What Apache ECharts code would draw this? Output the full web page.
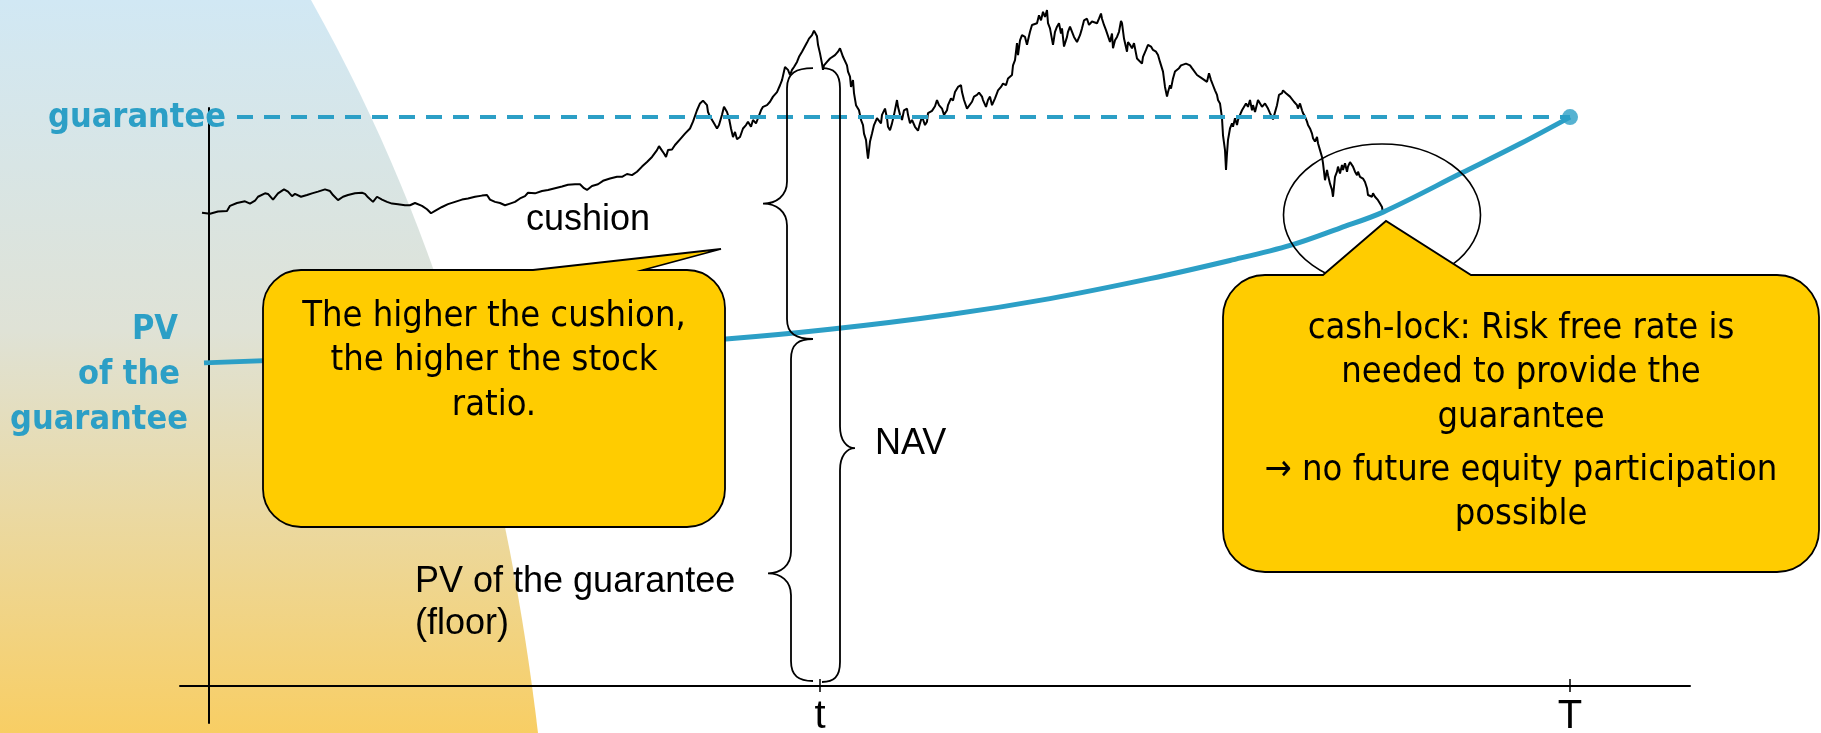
<!DOCTYPE html>
<html>
<head>
<meta charset="utf-8">
<script src="https://cdn.jsdelivr.net/npm/echarts@6/dist/echarts.min.js"></script>
<style>
  html, body { margin: 0; padding: 0; background: #ffffff; }
  #chart { width: 1821px; height: 733px; }
</style>
</head>
<body>
<div id="chart"></div>
<script>
// Fund NAV path: [trading day, NAV] with the guarantee level set to 100
const navPath = [
  [-7,83.2],[1,83.0],[9,83.4],[18,83.5],[21,84.4],[28,84.9],[36,85.2],[41,84.8],[46,85.3],[49,86.0],
  [56,86.6],[59,86.5],[64,85.5],[69,86.6],[75,87.3],[79,86.9],[83,86.1],[86,86.5],[92,86.0],[98,86.3],
  [103,86.6],[109,86.9],[116,87.3],[121,87.0],[124,86.3],[129,85.4],[134,86.0],[139,86.3],[146,86.6],[153,86.7],
  [156,86.5],[159,85.9],[164,85.1],[168,86.0],[173,85.5],[178,85.1],[183,84.8],[189,84.7],[196,84.5],[201,84.5],
  [206,84.9],[213,84.4],[218,83.8],[222,83.1],[226,83.5],[233,84.2],[239,84.7],[246,85.1],[253,85.5],[259,85.7],
  [266,86.0],[273,86.2],[278,86.3],[281,85.5],[286,85.1],[291,84.9],[296,84.5],[301,84.8],[306,85.1],[311,85.7],
  [316,86.1],[319,86.7],[326,86.6],[333,87.0],[339,87.2],[346,87.5],[353,87.8],[359,88.1],[366,88.2],[371,88.2],
  [375,87.5],[378,87.2],[383,87.9],[389,88.2],[394,88.8],[401,89.2],[408,89.5],[413,89.5],[418,90.0],[423,89.8],
  [428,90.4],[433,91.3],[438,92.1],[443,93.0],[448,94.2],[450,94.9],[453,94.1],[455,93.6],[457,93.0],[459,94.2],
  [463,94.3],[466,95.1],[471,96.1],[476,97.1],[481,98.0],[484,99.2],[488,101.2],[491,102.4],[494,102.9],[498,102.1],
  [499,100.9],[501,100.1],[503,100.4],[505,98.9],[508,98.0],[510,98.6],[513,100.4],[515,101.8],[518,100.9],[520,99.8],
  [522,98.0],[524,96.5],[526,97.4],[528,96.1],[531,96.5],[534,98.0],[537,98.6],[539,99.2],[542,98.3],[544,99.5],
  [547,98.9],[549,99.8],[552,101.2],[554,101.8],[558,102.1],[561,102.7],[564,103.6],[568,104.4],[571,105.6],[573,106.5],
  [576,108.8],[579,108.3],[581,107.4],[583,108.3],[585,108.8],[588,109.7],[590,110.6],[593,111.5],[595,111.8],[598,113.1],
  [600,113.8],[603,114.4],[605,115.2],[608,114.2],[609,112.7],[611,111.2],[613,109.4],[614,108.3],[615,109.1],[618,109.7],
  [621,110.3],[623,110.0],[626,110.9],[629,111.5],[631,112.1],[633,111.8],[634,110.6],[636,110.3],[638,109.1],[639,108.0],
  [641,107.1],[642,105.3],[644,106.5],[645,104.2],[647,102.1],[649,102.4],[650,101.2],[652,99.5],[654,98.6],[655,97.1],
  [657,96.0],[658,94.2],[659,92.7],[660,93.0],[661,95.7],[663,97.1],[665,98.6],[668,99.8],[669,100.1],[672,98.9],
  [673,100.4],[676,101.5],[678,99.8],[679,98.3],[681,97.7],[683,98.9],[685,100.4],[688,103.0],[689,101.8],[691,100.4],
  [693,99.5],[695,101.2],[698,101.5],[699,100.4],[701,98.9],[703,99.5],[706,98.3],[709,97.6],[711,98.9],[713,100.1],
  [716,98.6],[718,99.2],[719,100.7],[723,101.1],[726,101.9],[728,103.0],[730,102.1],[733,101.5],[735,100.4],[738,101.2],
  [739,102.1],[742,103.3],[744,102.9],[746,104.4],[749,105.3],[752,105.6],[753,104.4],[755,103.0],[758,101.5],[760,101.2],
  [763,102.7],[765,103.6],[768,103.9],[770,104.3],[773,103.6],[774,103.0],[777,101.8],[779,103.0],[781,103.6],[783,102.1],
  [786,103.3],[788,104.2],[789,104.7],[792,105.3],[794,105.9],[797,105.6],[799,106.8],[803,107.4],[804,109.1],[806,110.0],
  [808,113.0],[809,110.9],[811,113.5],[813,114.4],[816,114.1],[818,112.7],[819,113.5],[821,115.0],[823,116.2],[825,115.9],
  [828,116.5],[830,117.9],[832,117.0],[834,118.5],[836,117.6],[838,118.8],[839,116.5],[841,115.6],[843,115.9],[844,112.7],
  [846,115.0],[848,115.9],[850,116.5],[852,114.7],[853,115.6],[855,112.4],[858,114.1],[859,115.0],[861,115.9],[863,115.6],
  [865,114.1],[868,113.2],[869,113.0],[871,114.4],[873,115.6],[875,117.0],[878,117.3],[880,116.2],[883,116.8],[885,117.0],
  [888,116.5],[890,117.3],[892,118.2],[893,117.3],[895,116.2],[897,115.3],[899,115.0],[901,113.2],[903,114.7],[904,112.1],
  [906,113.5],[908,114.1],[910,115.0],[912,116.9],[913,116.5],[915,113.8],[918,111.5],[919,113.2],[921,112.7],[923,112.1],
  [925,113.0],[928,110.3],[930,110.0],[933,109.4],[934,110.6],[937,111.8],[939,112.7],[942,112.4],[944,111.8],[947,111.5],
  [949,110.9],[951,109.7],[953,110.0],[954,108.0],[956,105.3],[958,103.6],[959,104.4],[961,105.6],[962,105.0],[964,106.8],
  [966,108.0],[968,108.3],[970,108.6],[972,109.1],[974,108.8],[977,109.4],[979,109.7],[981,109.1],[983,108.6],[985,108.3],
  [988,107.4],[990,107.7],[993,106.8],[995,107.1],[998,106.2],[1000,107.7],[1002,106.5],[1004,105.6],[1006,104.7],[1008,103.9],
  [1009,103.0],[1011,102.4],[1013,99.8],[1014,96.8],[1016,94.2],[1017,90.7],[1018,93.6],[1019,96.0],[1021,98.0],[1023,98.9],
  [1024,98.3],[1026,99.8],[1028,98.6],[1029,99.5],[1031,100.4],[1033,101.2],[1034,100.9],[1037,102.4],[1039,101.8],[1041,103.0],
  [1043,101.2],[1044,102.1],[1046,100.9],[1049,103.0],[1051,102.7],[1053,101.8],[1056,102.4],[1059,101.5],[1061,100.7],[1063,100.4],
  [1064,99.6],[1066,99.8],[1068,102.1],[1070,103.9],[1073,104.2],[1074,104.7],[1077,104.2],[1079,103.9],[1081,103.6],[1083,103.3],
  [1085,102.7],[1088,102.1],[1089,101.5],[1091,102.4],[1093,101.2],[1094,100.7],[1096,100.1],[1098,99.2],[1099,98.6],[1101,98.0],
  [1103,97.1],[1104,96.3],[1106,95.7],[1108,96.5],[1109,95.4],[1111,94.2],[1113,93.0],[1114,91.9],[1116,88.9],[1118,90.7],
  [1119,89.8],[1121,88.3],[1123,87.2],[1124,86.0],[1126,89.5],[1128,90.4],[1129,91.3],[1131,90.1],[1133,91.6],[1134,90.7],
  [1136,91.9],[1138,90.4],[1139,91.3],[1141,92.1],[1143,92.4],[1144,91.3],[1146,90.4],[1148,89.8],[1149,90.4],[1151,89.5],
  [1153,89.8],[1154,89.2],[1156,88.6],[1158,87.5],[1159,86.3],[1161,86.6],[1163,86.0],[1164,86.6],[1166,86.0],[1168,85.7],
  [1169,85.4],[1171,84.8],[1173,84.2],[1174,83.1]
];

// Present value of the guarantee (the floor): [trading day, value]
const floorPath = [
  [-5,56.8],[191,58.1],[391,59.7],[517,61.0],[621,62.7],[741,65.3],[841,68.1],[941,71.6],
  [1021,74.8],[1082,77.5],[1131,80.5],[1174,83.3],[1253,90.2],[1311,95.3],[1361,100]
];

// Guarantee level and the time axis markers
const guaranteeLevel = 100;
const guaranteeFromDay = 28;
const maturityDay = 1361;
const todayDay = 611;
const tickDays = [611, 1361];
const tickLabels = ['t', 'T'];

// Levels spanned by the cushion / floor braces at time t
const braceTopValue = 108.6;
const braceSplitValue = 61.0;
// Cash-lock point (end of the NAV path)
const cashLockPoint = [1173, 82.8];

const BLUE = '#2C9FC6';
const YELLOW = '#FFCC00';
const BOLD_BLUE_FONT = 'bold 34px "DejaVu Sans Condensed", "DejaVu Sans", sans-serif';
const NOTE_FONT = '36px "DejaVu Sans Condensed", "DejaVu Sans", sans-serif';
const LABEL_FONT = '36px "Liberation Sans", Arial, sans-serif';
const TICK_FONT = '40px "Liberation Sans", Arial, sans-serif';

// Curly brace path; ex = end x, sx = spine x, cx = cusp x
function bracePath(ex, sx, cx, yT, yB, cy) {
  const k = 20, kc = 22;
  const ecx = sx + (ex - sx) * 0.35;
  const ccx = sx + (cx - sx) * 0.45;
  return `M${ex},${yT} C${ecx},${yT} ${sx},${yT + 5} ${sx},${yT + k} ` +
    `L${sx},${cy - kc} C${sx},${cy - kc * 0.35} ${ccx},${cy} ${cx},${cy} ` +
    `C${ccx},${cy} ${sx},${cy + kc * 0.35} ${sx},${cy + kc} ` +
    `L${sx},${yB - k} C${sx},${yB - 5} ${ecx},${yB} ${ex},${yB}`;
}

// Rounded box with a triangular pointer on its top edge
function calloutPath(L, T, R, B, r, p1, tip, p2) {
  return `M${L + r},${T} L${p1},${T} L${tip[0]},${tip[1]} L${p2},${T} L${R - r},${T} ` +
    `A${r},${r} 0 0 1 ${R},${T + r} L${R},${B - r} A${r},${r} 0 0 1 ${R - r},${B} ` +
    `L${L + r},${B} A${r},${r} 0 0 1 ${L},${B - r} L${L},${T + r} A${r},${r} 0 0 1 ${L + r},${T} Z`;
}

function text(x, y, str, font, fill, align, lineHeight) {
  return {
    type: 'text', x: x, y: y, silent: true,
    style: {
      text: str, font: font, fill: fill,
      align: align, verticalAlign: 'middle',
      textAlign: align, textVerticalAlign: 'middle',
      lineHeight: lineHeight || 44
    }
  };
}

const chart = echarts.init(document.getElementById('chart'), null, { renderer: 'canvas' });

const option = {
  animation: false,
  backgroundColor: '#ffffff',
  grid: { left: 180, right: 131, top: 108, bottom: 10, containLabel: false, outerBoundsMode: 'none' },
  xAxis: {
    type: 'value', min: -29, max: 1481, z: 3,
    axisLine: { show: true, onZero: true, lineStyle: { color: '#000', width: 2 } },
    axisTick: { show: true, customValues: tickDays, length: 6, lineStyle: { color: '#000', width: 1.5 } },
    axisLabel: { show: false },
    splitLine: { show: false }
  },
  yAxis: {
    type: 'value', min: -6.5, max: 101.6, z: 3,
    axisLine: { show: true, onZero: true, lineStyle: { color: '#000', width: 2 } },
    axisTick: { show: false }, axisLabel: { show: false }, splitLine: { show: false }
  },
  series: [
    {
      // shaded backdrop on the left
      type: 'custom', coordinateSystem: 'none', silent: true, z: 1, clip: false,
      data: [0],
      renderItem: function () {
        return {
          type: 'path', silent: true,
          shape: { pathData: 'M0,0 L311,0 C448,244 509,489 538,733 L0,733 Z' },
          style: {
            fill: {
              type: 'linear', x: 0, y: 0, x2: 0, y2: 1,
              colorStops: [
                { offset: 0, color: '#D1E8F4' },
                { offset: 0.45, color: '#DFE2D6' },
                { offset: 1, color: '#F8CE64' }
              ]
            },
            stroke: 'none'
          }
        };
      }
    },
    {
      name: 'NAV', type: 'line', data: navPath, z: 4, clip: false,
      symbol: 'none', showSymbol: false, silent: true,
      lineStyle: { color: '#000', width: 2 }
    },
    {
      name: 'PV of the guarantee', type: 'line', data: floorPath, z: 5, clip: false,
      smooth: 0.35, symbol: 'none', showSymbol: false, silent: true,
      lineStyle: { color: BLUE, width: 5 }
    },
    {
      name: 'guarantee', type: 'line', z: 5, clip: false,
      data: [[guaranteeFromDay, guaranteeLevel], [maturityDay, guaranteeLevel]],
      symbol: 'none', showSymbol: false, silent: true,
      lineStyle: { color: BLUE, width: 4, type: [16, 11] }
    },
    {
      name: 'maturity', type: 'scatter', z: 6, silent: true,
      data: [[maturityDay, guaranteeLevel]],
      symbol: 'circle', symbolSize: 16, itemStyle: { color: BLUE }
    },
    {
      // braces, ellipse, callouts, tick labels and texts
      type: 'custom', coordinateSystem: 'cartesian2d', silent: true, z: 8, clip: false,
      data: [[0, 0]],
      renderItem: function (params, api) {
        const tX = api.coord([todayDay, 0])[0];
        const y0 = api.coord([0, 0])[1];
        const yTop = api.coord([0, braceTopValue])[1];
        const ySplit = api.coord([0, braceSplitValue])[1];
        const lock = api.coord(cashLockPoint);
        const stroke = { fill: 'none', stroke: '#000', lineWidth: 1.8 };

        const floorBottom = y0 - 5;
        const navBottom = y0 - 4;
        const children = [
          { type: 'path', shape: { pathData: bracePath(tX - 7, tX - 33, tX - 57, yTop, ySplit, (yTop + ySplit) / 2) }, style: stroke },
          { type: 'path', shape: { pathData: bracePath(tX - 7, tX - 29, tX - 52, ySplit, floorBottom, ySplit + 0.685 * (floorBottom - ySplit)) }, style: stroke },
          { type: 'path', shape: { pathData: bracePath(tX + 2, tX + 20, tX + 35, yTop, navBottom, yTop + 0.619 * (navBottom - yTop)) }, style: stroke },
          {
            type: 'path',
            shape: { pathData: `M${lock[0] - 98.5},${lock[1]} A98.5,71 0 1 0 ${lock[0] + 98.5},${lock[1]} A98.5,71 0 1 0 ${lock[0] - 98.5},${lock[1]} Z` },
            style: { fill: 'none', stroke: '#000', lineWidth: 1.6 }
          },
          {
            type: 'path',
            shape: { pathData: calloutPath(263, 270, 725, 527, 38, 533, [721, 249], 643) },
            style: { fill: YELLOW, stroke: '#000', lineWidth: 1.8 }
          },
          {
            type: 'path',
            shape: { pathData: calloutPath(1223, 275, 1819, 572, 42, 1323, [lock[0] + 4, lock[1] + 6], 1471) },
            style: { fill: YELLOW, stroke: '#000', lineWidth: 1.8 }
          },
          text(494, 361, 'The higher the cushion,\nthe higher the stock\nratio.', NOTE_FONT, '#000', 'center', 44.5),
          text(1521, 373, 'cash-lock: Risk free rate is\nneeded to provide the\nguarantee', NOTE_FONT, '#000', 'center', 44.5),
          text(1521, 493, '\u2192 no future equity participation\npossible', NOTE_FONT, '#000', 'center', 44),
          text(526, 220.5, 'cushion', LABEL_FONT, '#000', 'left', 40),
          text(875, 444.5, 'NAV', LABEL_FONT, '#000', 'left', 40),
          text(415, 603.5, 'PV of the guarantee\n(floor)', LABEL_FONT, '#000', 'left', 42),
          text(226, 118, 'guarantee', BOLD_BLUE_FONT, BLUE, 'right', 40),
          text(178, 330, 'PV', BOLD_BLUE_FONT, BLUE, 'right', 40),
          text(180, 375, 'of the', BOLD_BLUE_FONT, BLUE, 'right', 40),
          text(188, 420, 'guarantee', BOLD_BLUE_FONT, BLUE, 'right', 40)
        ];
        // time-axis tick marks (crossing the axis) and their labels
        tickDays.forEach(function (d, i) {
          const px = api.coord([d, 0])[0];
          children.push({ type: 'line', shape: { x1: px, y1: y0 - 7, x2: px, y2: y0 }, style: { stroke: '#000', lineWidth: 1.5 } });
          children.push(text(px, y0 + 31, tickLabels[i], TICK_FONT, '#000', 'center', 44));
        });
        return { type: 'group', children: children };
      }
    }
  ]
};

chart.setOption(option);
</script>
</body>
</html>
